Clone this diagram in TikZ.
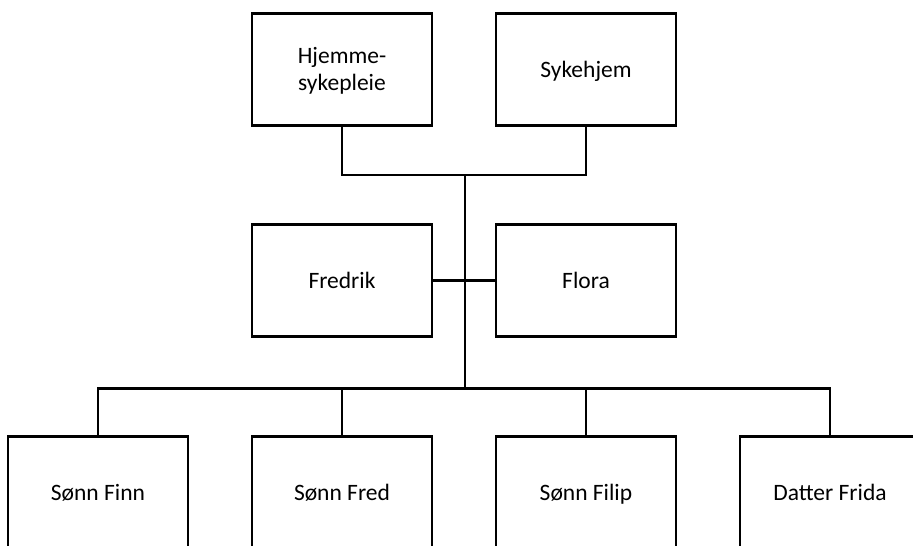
\documentclass[tikz,border=0pt]{standalone}
\usepackage{fontspec}
\setmainfont{Carlito}
% invisible rules that fix the line height and depth inside the boxes
\newcommand\toprule{\rule{0pt}{22pt}}
\newcommand\botrule{\rule[-6.8pt]{0pt}{6.8pt}}
\newcommand\lbl[1]{\toprule#1\botrule}
\begin{document}
\begin{tikzpicture}[x=1pt,y=-1pt,
  person/.style={draw, line width=2.8pt, minimum width=180pt, minimum height=112pt,
    inner sep=0pt, align=center, font=\fontsize{23.5}{27}\selectfont},
  link/.style={line width=2.8pt}]
  \clip (0,0) rectangle (913,546);
  \fill[white] (0,0) rectangle (913,546);

  % care services
  \node[person] (hs) at (342,69.5) {\toprule Hjemme-\\sykepleie\botrule};
  \node[person] (sk) at (586,69.5) {\lbl{Sykehjem}};

  % parents
  \node[person] (fr) at (342,280.5) {\lbl{Fredrik}};
  \node[person] (fl) at (586,280.5) {\lbl{Flora}};

  % children
  \node[person] (c1) at (98,492.7) {\lbl{Sønn Finn}};
  \node[person] (c2) at (342,492.7) {\lbl{Sønn Fred}};
  \node[person] (c3) at (586,492.7) {\lbl{Sønn Filip}};
  \node[person] (c4) at (830,492.7) {\lbl{Datter Frida}};

  % junction points on the central trunk
  \coordinate (topj) at (465,175);
  \coordinate (botj) at (465,388.5);

  \draw[link] (hs.south) |- (topj) -| (sk.south);
  \draw[link] (topj) -- (botj);
  \draw[link] (fr.east) -- (fl.west);
  \draw[link] (c1.north) |- (botj) -| (c4.north);
  \draw[link] (c2.north) -- (c2.north |- botj);
  \draw[link] (c3.north) -- (c3.north |- botj);
\end{tikzpicture}
\end{document}
